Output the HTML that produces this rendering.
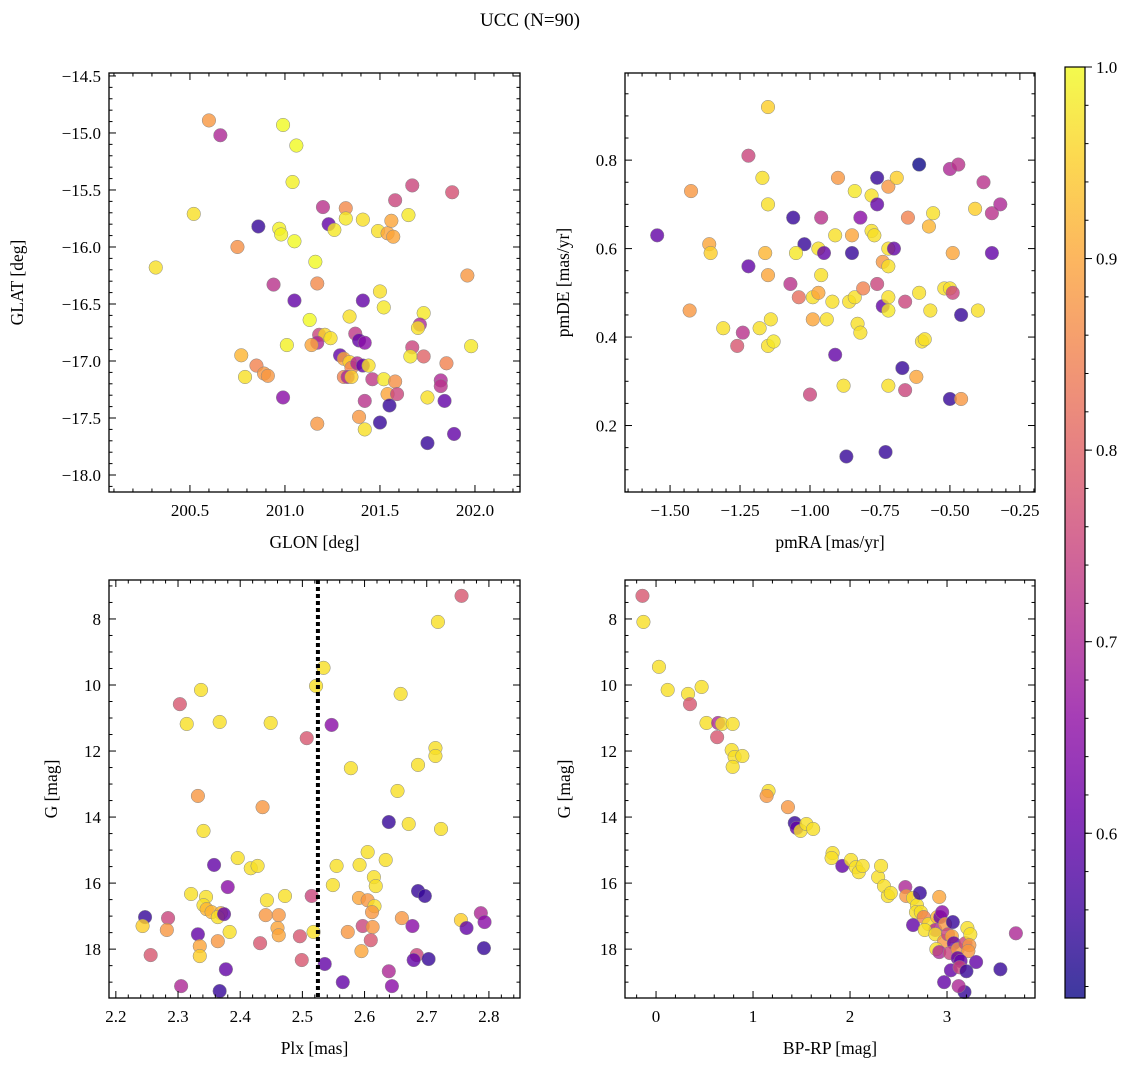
<!DOCTYPE html>
<html><head><meta charset="utf-8"><style>
body{margin:0;background:#fff;}
svg{display:block;font-family:"Liberation Serif","DejaVu Serif",serif;}
</style></head><body>
<svg id="fig" width="1136" height="1067" viewBox="0 0 1136 1067">
<text x="530" y="26" font-size="19" text-anchor="middle">UCC (N=90)</text>
</svg>
<script>
// ---- data ----
const p1Glon=[200.60,200.66,200.52,200.32,200.75,200.86,200.99,201.06,201.04,200.97,200.98,201.05,200.94,201.05,201.16,201.17,201.20,201.23,201.26,201.32,201.32,201.41,201.49,201.54,201.57,201.56,201.58,201.65,201.67,201.88,201.96,201.50,201.52,201.41,201.34,201.13,201.18,201.21,201.24,201.17,201.14,201.01,201.37,201.39,201.42,201.73,201.71,201.70,201.67,201.66,201.73,201.85,201.98,200.77,200.79,200.85,200.89,200.91,200.99,201.17,201.29,201.31,201.34,201.35,201.38,201.41,201.44,201.31,201.33,201.35,201.46,201.52,201.58,201.54,201.59,201.55,201.42,201.39,201.42,201.50,201.75,201.82,201.82,201.84,201.75,201.89];
const p1Glat=[-14.89,-15.02,-15.71,-16.18,-16.00,-15.82,-14.93,-15.11,-15.43,-15.84,-15.89,-15.95,-16.33,-16.47,-16.13,-16.32,-15.65,-15.80,-15.85,-15.66,-15.75,-15.76,-15.86,-15.88,-15.91,-15.77,-15.59,-15.72,-15.46,-15.52,-16.25,-16.39,-16.53,-16.47,-16.61,-16.64,-16.77,-16.77,-16.80,-16.84,-16.86,-16.86,-16.76,-16.82,-16.84,-16.58,-16.68,-16.71,-16.88,-16.96,-16.96,-17.02,-16.87,-16.95,-17.14,-17.04,-17.11,-17.13,-17.32,-17.55,-16.95,-16.98,-17.01,-17.06,-17.02,-17.04,-17.04,-17.14,-17.14,-17.14,-17.16,-17.16,-17.18,-17.29,-17.29,-17.39,-17.35,-17.49,-17.60,-17.54,-17.32,-17.17,-17.22,-17.35,-17.72,-17.64];
const p1Prob=[0.88,0.70,0.97,0.97,0.87,0.55,1.0,1.0,0.99,0.99,0.99,1.0,0.72,0.6,1.0,0.86,0.72,0.6,0.98,0.86,0.98,0.97,0.97,0.9,0.9,0.9,0.75,0.98,0.75,0.77,0.88,0.97,0.98,0.6,0.97,1.0,0.75,0.96,0.97,0.7,0.9,0.99,0.73,0.6,0.65,0.98,0.7,0.97,0.75,0.98,0.8,0.85,0.98,0.92,0.97,0.85,0.88,0.88,0.65,0.88,0.6,0.9,0.95,0.85,0.7,0.6,0.97,0.85,0.7,0.95,0.73,0.98,0.87,0.9,0.75,0.55,0.72,0.88,0.97,0.55,0.97,0.7,0.72,0.6,0.55,0.6];

const p2Pmra=[-1.15,-1.22,-1.425,-1.546,-1.36,-1.355,-1.17,-1.15,-1.16,-1.15,-1.22,-1.43,-1.31,-1.24,-1.26,-1.18,-1.14,-1.15,-1.13,-1.06,-1.02,-1.05,-0.96,-0.97,-0.96,-0.95,-0.90,-0.91,-0.85,-0.84,-0.82,-0.78,-0.76,-0.76,-0.78,-0.77,-0.85,-1.04,-1.07,-0.99,-0.97,-0.99,-0.94,-0.92,-0.86,-0.84,-0.81,-0.83,-0.82,-0.91,-1.0,-0.88,-0.87,-0.76,-0.74,-0.72,-0.72,-0.70,-0.74,-0.72,-0.72,-0.72,-0.73,-0.72,-0.69,-0.65,-0.66,-0.67,-0.66,-0.61,-0.62,-0.61,-0.60,-0.59,-0.575,-0.56,-0.57,-0.52,-0.50,-0.49,-0.49,-0.50,-0.47,-0.50,-0.46,-0.46,-0.41,-0.40,-0.38,-0.35,-0.35,-0.32];
const p2Pmde=[0.92,0.81,0.73,0.63,0.61,0.59,0.76,0.70,0.59,0.54,0.56,0.46,0.42,0.41,0.38,0.42,0.44,0.38,0.39,0.67,0.61,0.59,0.67,0.60,0.54,0.59,0.76,0.63,0.63,0.73,0.67,0.72,0.76,0.70,0.64,0.63,0.59,0.49,0.52,0.49,0.50,0.44,0.44,0.48,0.48,0.49,0.51,0.43,0.41,0.36,0.27,0.29,0.13,0.52,0.57,0.60,0.56,0.60,0.47,0.49,0.46,0.29,0.14,0.74,0.76,0.67,0.48,0.33,0.28,0.79,0.31,0.50,0.39,0.395,0.65,0.68,0.46,0.51,0.51,0.50,0.59,0.78,0.79,0.26,0.45,0.26,0.69,0.46,0.75,0.68,0.59,0.70];
const p2Prob=[0.95,0.75,0.88,0.6,0.9,0.95,0.97,0.97,0.92,0.9,0.6,0.88,0.97,0.72,0.78,0.97,0.97,0.97,0.98,0.55,0.55,0.98,0.72,0.97,0.97,0.6,0.88,0.97,0.9,0.98,0.65,0.97,0.55,0.6,0.97,0.97,0.55,0.82,0.72,0.97,0.9,0.9,0.97,0.97,0.97,0.97,0.85,0.97,0.97,0.6,0.75,0.97,0.55,0.75,0.88,0.97,0.97,0.6,0.6,0.97,0.98,0.97,0.55,0.88,0.95,0.85,0.75,0.55,0.75,0.5,0.9,0.97,0.97,0.97,0.92,0.97,0.97,0.97,0.97,0.75,0.9,0.7,0.72,0.55,0.55,0.88,0.95,0.97,0.72,0.72,0.6,0.7];

const p3Plx=[2.756,2.718,2.534,2.522,2.303,2.337,2.314,2.367,2.449,2.547,2.507,2.658,2.578,2.714,2.714,2.686,2.653,2.332,2.436,2.341,2.723,2.671,2.639,2.358,2.396,2.417,2.428,2.605,2.634,2.555,2.592,2.615,2.618,2.549,2.380,2.321,2.345,2.341,2.346,2.354,2.369,2.364,2.374,2.383,2.443,2.472,2.441,2.462,2.460,2.462,2.515,2.591,2.605,2.616,2.612,2.597,2.613,2.610,2.595,2.573,2.518,2.496,2.499,2.536,2.565,2.639,2.644,2.660,2.677,2.684,2.679,2.703,2.686,2.697,2.755,2.764,2.787,2.793,2.792,2.247,2.243,2.256,2.284,2.282,2.305,2.332,2.335,2.335,2.364,2.377,2.367,2.432];
const p3G=[7.30,8.09,9.48,10.03,10.58,10.15,11.18,11.12,11.15,11.21,11.61,10.27,12.52,11.91,12.15,12.42,13.21,13.36,13.70,14.42,14.36,14.21,14.15,15.45,15.24,15.55,15.48,15.06,15.30,15.48,15.45,15.82,16.09,16.06,16.12,16.33,16.42,16.67,16.79,16.88,16.91,17.03,16.94,17.48,16.52,16.39,16.97,16.97,17.36,17.58,16.39,16.45,16.52,16.70,16.88,17.30,17.33,17.73,18.06,17.48,17.48,17.61,18.33,18.45,19.00,18.67,19.12,17.06,17.30,18.18,18.33,18.30,16.24,16.39,17.12,17.36,16.91,17.18,17.97,17.03,17.30,18.18,17.06,17.42,19.12,17.55,17.91,18.21,17.76,18.61,19.27,17.82];
const p3Prob=[0.78,0.97,0.97,0.97,0.78,0.97,0.97,0.97,0.97,0.65,0.78,0.97,0.97,0.97,0.97,0.97,0.97,0.88,0.88,0.97,0.97,0.97,0.55,0.6,0.97,0.97,0.97,0.97,0.97,0.97,0.97,0.97,0.97,0.97,0.65,0.97,0.97,0.97,0.92,0.92,0.92,0.97,0.6,0.97,0.97,0.97,0.88,0.88,0.9,0.9,0.75,0.9,0.88,0.97,0.88,0.75,0.88,0.78,0.9,0.88,0.97,0.78,0.78,0.6,0.6,0.7,0.65,0.88,0.65,0.75,0.6,0.55,0.55,0.55,0.95,0.6,0.7,0.65,0.55,0.55,0.95,0.78,0.75,0.88,0.7,0.6,0.9,0.95,0.88,0.6,0.55,0.78];
const plxLine=2.525;

const p4Bprp=[-0.14,-0.13,0.03,0.12,0.33,0.47,0.35,0.52,0.64,0.68,0.63,0.79,0.78,0.81,0.79,0.89,1.16,1.14,1.36,1.43,1.45,1.49,1.55,1.62,1.82,1.81,1.92,2.01,2.06,2.09,2.13,2.29,2.32,2.35,2.39,2.42,2.57,2.58,2.65,2.69,2.72,2.68,2.73,2.65,2.76,2.81,2.92,2.90,2.88,2.93,2.95,2.98,2.77,2.88,2.97,2.89,3.01,3.05,3.06,3.07,2.92,3.03,3.04,2.97,3.11,3.19,3.21,3.24,3.23,3.22,3.11,3.14,3.13,3.20,3.18,3.30,3.12,3.55,3.71];
const p4G=[7.30,8.09,9.45,10.15,10.27,10.06,10.58,11.15,11.15,11.18,11.58,11.18,11.97,12.18,12.48,12.15,13.21,13.36,13.70,14.18,14.33,14.42,14.21,14.36,15.09,15.24,15.48,15.30,15.52,15.67,15.48,15.82,15.48,16.09,16.39,16.30,16.12,16.39,16.45,16.67,16.30,16.88,16.88,17.27,17.03,17.24,16.42,17.03,17.42,17.03,16.88,17.24,17.42,17.55,17.76,18.00,17.55,17.61,17.18,17.82,18.09,18.12,18.64,19.00,18.00,17.82,17.36,17.55,17.88,18.06,18.27,18.36,18.55,18.67,19.30,18.39,19.12,18.61,17.52];
const p4Prob=[0.78,0.97,0.97,0.97,0.97,0.97,0.78,0.97,0.7,0.97,0.78,0.97,0.97,0.97,0.97,0.97,0.97,0.88,0.88,0.55,0.6,0.97,0.97,0.97,0.97,0.97,0.6,0.97,0.97,0.97,0.97,0.97,0.97,0.97,0.97,0.97,0.7,0.88,0.97,0.97,0.55,0.97,0.97,0.6,0.85,0.97,0.9,0.92,0.7,0.6,0.65,0.88,0.97,0.97,0.88,0.97,0.75,0.9,0.55,0.6,0.7,0.75,0.6,0.6,0.88,0.75,0.97,0.97,0.88,0.88,0.6,0.6,0.75,0.55,0.55,0.6,0.7,0.55,0.7];

const cbTicks=[0.6,0.7,0.8,0.9,1.0];
const vmin=0.514, vmax=1.0;

// ---- helpers ----
const NS="http://www.w3.org/2000/svg";
const svg=document.getElementById('fig');
function mk(tag,attrs,parent){const e=document.createElementNS(NS,tag);for(const k in attrs)e.setAttribute(k,attrs[k]);(parent||svg).appendChild(e);return e;}
const stops=[[13,8,135],[65,4,157],[106,0,168],[143,13,164],[177,42,144],[204,71,120],[225,100,98],[242,132,75],[252,166,54],[252,206,37],[240,249,33]];
function plasma(t){t=Math.max(0,Math.min(1,t));const f=t*10,i=Math.min(9,Math.floor(f)),r=f-i;const a=stops[i],b=stops[i+1];return `rgb(${Math.round(a[0]+(b[0]-a[0])*r)},${Math.round(a[1]+(b[1]-a[1])*r)},${Math.round(a[2]+(b[2]-a[2])*r)})`;}
function colorOf(p){return plasma((p-vmin)/(vmax-vmin));}
function fmt(v,d){const s=v.toFixed(d);return v<0?'\u2212'+s.slice(1):s;}
const FS=17;

function panel(o){
  const g=mk('g',{});
  
  
  const X=v=>o.L+(v-o.x0)/(o.x1-o.x0)*(o.R-o.L);
  const Y=o.inv?(v=>o.T+(v-o.y1)/(o.y0-o.y1)*(o.B-o.T)):(v=>o.B-(v-o.y0)/(o.y1-o.y0)*(o.B-o.T));
  const pg=mk('g',{},g);
  
  
  for(let i=0;i<o.p.length;i++){
    const c=mk('circle',{cx:X(o.xs[i]),cy:Y(o.ys[i]),r:6.8,fill:colorOf(o.p[i]),'fill-opacity':0.8,stroke:'#888','stroke-width':0.5},pg);
    
    
  }
  if(o.vline!==undefined){
    const l=mk('line',{x1:X(o.vline),x2:X(o.vline),y1:o.T,y2:o.B,stroke:'#000','stroke-width':4,'stroke-dasharray':'4,3'},g);
    
    
  }
  const fr=mk('rect',{x:o.L,y:o.T,width:o.R-o.L,height:o.B-o.T,fill:'none',stroke:'#000','stroke-width':1.3},g);
  
  
  const eps=1e-9;
  for(let v=Math.ceil(o.x0/o.xmin)*o.xmin;v<=o.x1+eps;v+=o.xmin){
    const px=X(v);const major=Math.abs(v/o.xmaj-Math.round(v/o.xmaj))<1e-6;const len=major?7:3.5;
    mk('line',{x1:px,x2:px,y1:o.B,y2:o.B-len,stroke:'#000','stroke-width':1},g);
    mk('line',{x1:px,x2:px,y1:o.T,y2:o.T+len,stroke:'#000','stroke-width':1},g);
    if(major){const t=mk('text',{x:px,y:o.B+24,'font-size':FS,'text-anchor':'middle'},g);t.textContent=fmt(Math.round(v/o.xmaj)*o.xmaj,o.xd);
      }
  }
  for(let v=Math.ceil(Math.min(o.y0,o.y1)/o.ymin)*o.ymin;v<=Math.max(o.y0,o.y1)+eps;v+=o.ymin){
    const py=Y(v);const major=Math.abs(v/o.ymaj-Math.round(v/o.ymaj))<1e-6;const len=major?7:3.5;
    mk('line',{x1:o.L,x2:o.L+len,y1:py,y2:py,stroke:'#000','stroke-width':1},g);
    mk('line',{x1:o.R,x2:o.R-len,y1:py,y2:py,stroke:'#000','stroke-width':1},g);
    if(major){const t=mk('text',{x:o.L-8,y:py+6,'font-size':FS,'text-anchor':'end'},g);t.textContent=fmt(Math.round(v/o.ymaj)*o.ymaj,o.yd);
      }
  }
  const xl=mk('text',{x:(o.L+o.R)/2,y:o.B+56,'font-size':FS+0.5,'text-anchor':'middle'},g);xl.textContent=o.xlabel;
  
  const yx=o.ylx, yy=(o.T+o.B)/2;
  const yl=mk('text',{x:yx,y:yy,'font-size':FS+0.5,'text-anchor':'middle',transform:`rotate(-90 ${yx} ${yy})`},g);yl.textContent=o.ylabel;
  
}

panel({name:'glon-glat-panel',L:109,R:520,T:73,B:492,x0:200.074,x1:202.237,y0:-18.149,y1:-14.474,xmaj:0.5,xmin:0.1,ymaj:0.5,ymin:0.1,xd:1,yd:1,xs:p1Glon,ys:p1Glat,p:p1Prob,xlabel:'GLON [deg]',ylabel:'GLAT [deg]',ylx:23});
panel({name:'pm-panel',L:625,R:1035,T:73,B:492,x0:-1.661,x1:-0.196,y0:0.0497,y1:0.997,xmaj:0.25,xmin:0.05,ymaj:0.2,ymin:0.05,xd:2,yd:1,xs:p2Pmra,ys:p2Pmde,p:p2Prob,xlabel:'pmRA [mas/yr]',ylabel:'pmDE [mas/yr]',ylx:569});
panel({name:'plx-g-panel',L:109,R:520,T:580,B:998,x0:2.189,x1:2.850,y0:19.48,y1:6.82,inv:true,xmaj:0.1,xmin:0.02,ymaj:2,ymin:0.5,xd:1,yd:0,xs:p3Plx,ys:p3G,p:p3Prob,vline:plxLine,xlabel:'Plx [mas]',ylabel:'G [mag]',ylx:57});
panel({name:'cmd-panel',L:625,R:1035,T:580,B:998,x0:-0.32,x1:3.907,y0:19.48,y1:6.82,inv:true,xmaj:1,xmin:0.2,ymaj:2,ymin:0.5,xd:0,yd:0,xs:p4Bprp,ys:p4G,p:p4Prob,xlabel:'BP-RP [mag]',ylabel:'G [mag]',ylx:570});

// colorbar
const cb=mk('g',{});


const defs=mk('defs',{},cb);
const lg=mk('linearGradient',{id:'cbg',x1:0,y1:1,x2:0,y2:0},defs);
for(let i=0;i<=20;i++){mk('stop',{offset:i/20,'stop-color':plasma(i/20)},lg);}
const cT=67,cB=998,cL=1065,cR=1085;
mk('rect',{x:cL,y:cT,width:cR-cL,height:cB-cT,fill:'url(#cbg)','fill-opacity':0.8},cb);
mk('rect',{x:cL,y:cT,width:cR-cL,height:cB-cT,fill:'none',stroke:'#000','stroke-width':1.2},cb);
const CY=v=>cB-(v-vmin)/(vmax-vmin)*(cB-cT);
for(let v=0.52;v<=1.0001;v+=0.02){const py=CY(v);mk('line',{x1:cR,x2:cR+3.5,y1:py,y2:py,stroke:'#000'},cb);}
for(const v of cbTicks){const py=CY(v);mk('line',{x1:cR,x2:cR+7,y1:py,y2:py,stroke:'#000'},cb);
  const t=mk('text',{x:cR+11,y:py+6,'font-size':FS},cb);t.textContent=v.toFixed(1);
  }
</script>
</body></html>
